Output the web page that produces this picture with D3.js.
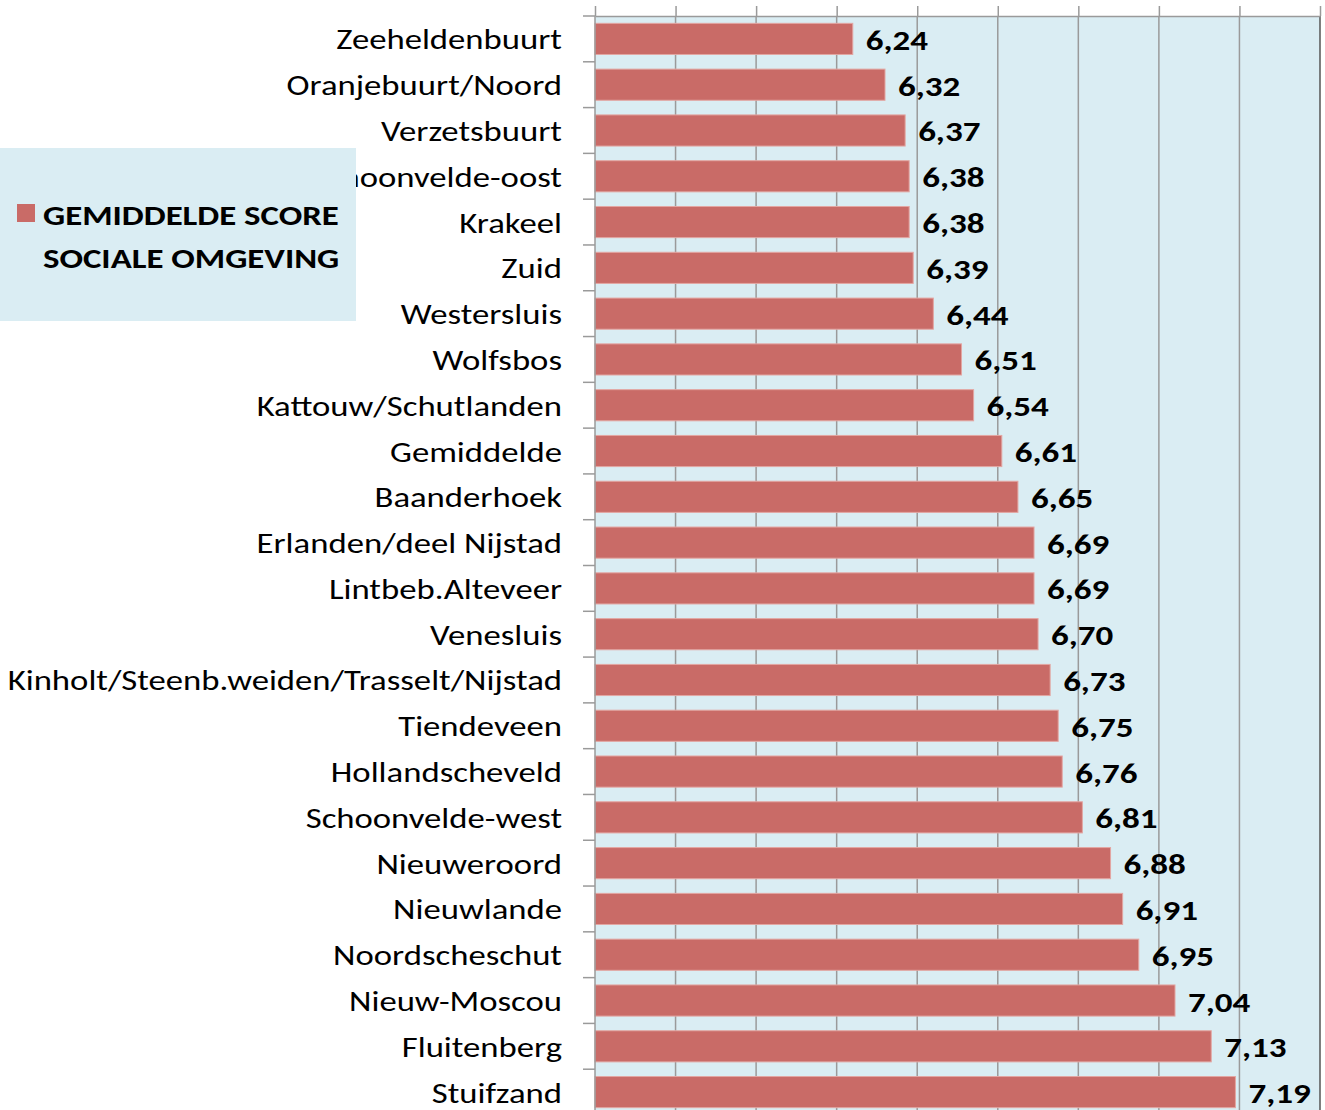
<!DOCTYPE html>
<html>
<head>
<meta charset="utf-8">
<script src="https://cdn.jsdelivr.net/npm/d3@7"></script>
<style>
  body { margin: 0; background: #fff; }
  svg { display: block; }
  .cat text { font-family: Carlito, Calibri, Lato, sans-serif; font-size: 28px; fill: #000; }
  .val { font-family: Carlito, Calibri, Lato, sans-serif; font-size: 28px; font-weight: 900; fill: #000; }
  .legend text { font-family: Carlito, Calibri, Lato, sans-serif; font-size: 29px; font-weight: bold; fill: #000; }
</style>
</head>
<body>
<script>
const wijken = [
  "Zeeheldenbuurt", "Oranjebuurt/Noord", "Verzetsbuurt", "Schoonvelde-oost", "Krakeel",
  "Zuid", "Westersluis", "Wolfsbos", "Kattouw/Schutlanden", "Gemiddelde", "Baanderhoek",
  "Erlanden/deel Nijstad", "Lintbeb.Alteveer", "Venesluis",
  "Kinholt/Steenb.weiden/Trasselt/Nijstad", "Tiendeveen", "Hollandscheveld",
  "Schoonvelde-west", "Nieuweroord", "Nieuwlande", "Noordscheschut", "Nieuw-Moscou",
  "Fluitenberg", "Stuifzand"
];
const scores = [
  6.24, 6.32, 6.37, 6.38, 6.38, 6.39, 6.44, 6.51, 6.54, 6.61, 6.65, 6.69,
  6.69, 6.70, 6.73, 6.75, 6.76, 6.81, 6.88, 6.91, 6.95, 7.04, 7.13, 7.19
];
const xTicks = [5.6, 5.8, 6.0, 6.2, 6.4, 6.6, 6.8, 7.0, 7.2, 7.4];
const legendLines = ["GEMIDDELDE SCORE", "SOCIALE OMGEVING"];

const width = 1325, height = 1110;
const margin = {top: 16, right: 5, left: 595};
const plotBottom = 1115;
// the reference text is drawn wider than the font, so stretch it a bit
const stretch = 1.24;

const svg = d3.select("body").append("svg")
  .attr("width", width)
  .attr("height", height);

const x = d3.scaleLinear()
  .domain([5.6, 7.4])
  .range([margin.left, width - margin.right]);

const y = d3.scaleBand()
  .domain(wijken)
  .range([margin.top, plotBottom])
  .paddingInner(0.32)
  .paddingOuter(0.16);

// plot background
svg.append("rect")
  .attr("x", x.range()[0])
  .attr("y", margin.top)
  .attr("width", x.range()[1] - x.range()[0])
  .attr("height", plotBottom - margin.top)
  .attr("fill", "#daedf3");

// gridlines
svg.append("g")
  .selectAll("line")
  .data(xTicks.slice(1))
  .join("line")
    .attr("x1", d => x(d)).attr("x2", d => x(d))
    .attr("y1", margin.top).attr("y2", plotBottom)
    .attr("stroke", d => d === 7.4 ? "#555" : "#9a9a9a")
    .attr("stroke-width", 1.5);

// top axis, no labels
const topAxis = svg.append("g")
  .attr("transform", `translate(0,${margin.top})`)
  .call(d3.axisTop(x).tickValues(xTicks).tickSize(10).tickFormat("").tickSizeOuter(0));
topAxis.select(".domain").attr("stroke", "#9a9a9a").attr("stroke-width", 1.5);
topAxis.selectAll(".tick line").attr("stroke", "#9a9a9a").attr("stroke-width", 1.5);

// bars
svg.append("g")
  .selectAll("rect")
  .data(wijken)
  .join("rect")
    .attr("x", x(5.6))
    .attr("y", d => y(d))
    .attr("width", (d, i) => x(scores[i]) - x(5.6))
    .attr("height", y.bandwidth())
    .attr("fill", "#c96b67")
    .attr("stroke", "#e3a6a2")
    .attr("stroke-width", 1);

// left axis line and ticks at band boundaries
const step = y.step();
const bounds = d3.range(wijken.length + 1).map(i => margin.top + i * step);
svg.append("line")
  .attr("x1", margin.left).attr("x2", margin.left)
  .attr("y1", margin.top).attr("y2", plotBottom)
  .attr("stroke", "#9a9a9a").attr("stroke-width", 1.5);
svg.append("g")
  .selectAll("line")
  .data(bounds)
  .join("line")
    .attr("x1", margin.left - 12).attr("x2", margin.left)
    .attr("y1", d => d).attr("y2", d => d)
    .attr("stroke", "#9a9a9a").attr("stroke-width", 1.5);

// category labels
svg.append("g").attr("class", "cat")
  .selectAll("text")
  .data(wijken)
  .join("text")
    .attr("transform", d => `translate(${margin.left - 33},${y(d) + y.bandwidth() / 2 + 10.5}) scale(${stretch},1)`)
    .attr("text-anchor", "end")
    .text(d => d);

// value labels
svg.append("g")
  .selectAll("text")
  .data(wijken)
  .join("text")
    .attr("class", "val")
    .attr("transform", (d, i) => `translate(${x(scores[i]) + 13},${y(d) + y.bandwidth() / 2 + 11}) scale(1.25,1)`)
    .text((d, i) => d3.format(".2f")(scores[i]).replace(".", ","));

// legend
const legend = svg.append("g").attr("class", "legend");
legend.append("rect")
  .attr("x", 0).attr("y", 148)
  .attr("width", 356).attr("height", 173)
  .attr("fill", "#daedf3");
legend.append("rect")
  .attr("x", 17).attr("y", 204)
  .attr("width", 18).attr("height", 18)
  .attr("fill", "#c96b67");
legend.selectAll("text.l")
  .data(legendLines)
  .join("text")
    .attr("class", "l")
    .attr("transform", (d, i) => `translate(43,${225 + i * 43}) scale(1.2,1)`)
    .text(d => d);
</script>
</body>
</html>
